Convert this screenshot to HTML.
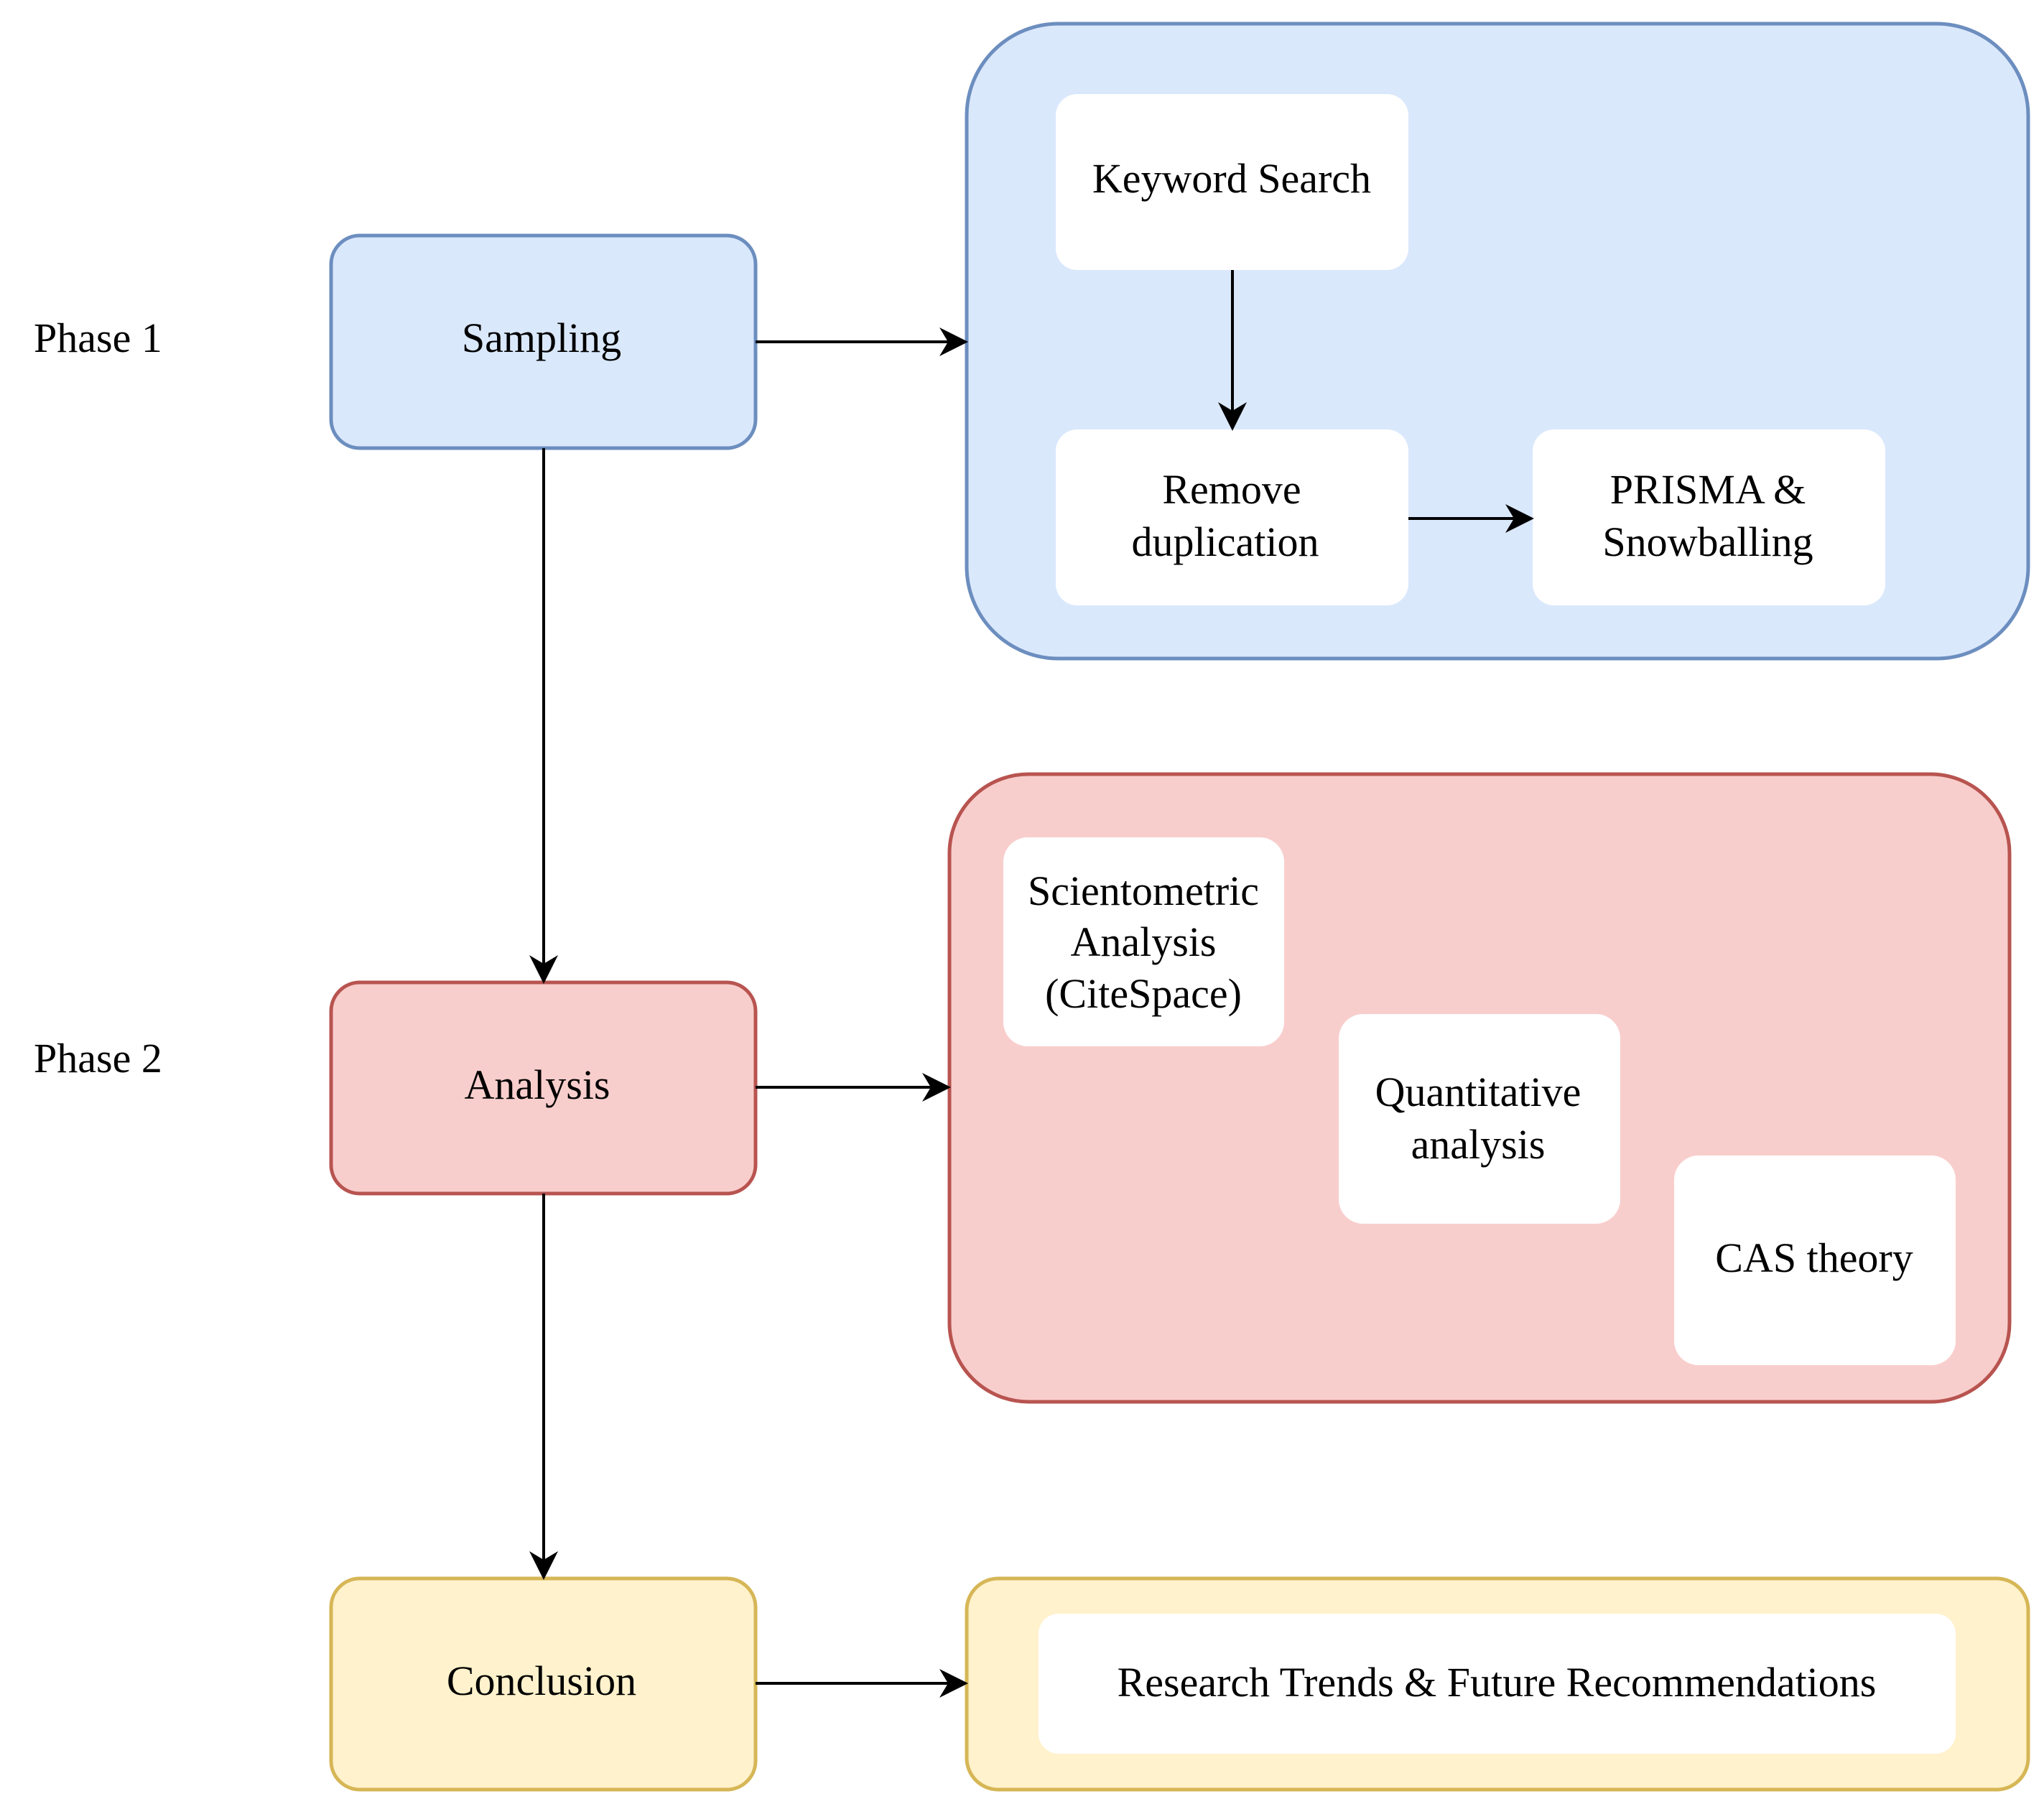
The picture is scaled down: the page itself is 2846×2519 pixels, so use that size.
<!DOCTYPE html>
<html><head><meta charset="utf-8"><style>html,body{margin:0;padding:0;background:#fff}</style></head>
<body>
<svg width="2846" height="2514" viewBox="0 0 2846 2514" xmlns="http://www.w3.org/2000/svg" font-family="Liberation Serif, serif" font-size="58" text-anchor="middle">
<defs>
<marker id="b" viewBox="0 0 10 10" refX="9" refY="5" markerWidth="40" markerHeight="40" orient="auto" markerUnits="userSpaceOnUse"><path d="M0,0 L10,5 L0,10 L3,5 z" fill="#000"/></marker></defs>
<rect x="1346" y="33" width="1478" height="884" rx="128" fill="#dae8fc" stroke="#6c8ebf" stroke-width="5"/>
<rect x="1322" y="1078" width="1476" height="874" rx="110" fill="#f8cecc" stroke="#b85450" stroke-width="5"/>
<rect x="1346" y="2198" width="1478" height="294" rx="44" fill="#fff2cc" stroke="#d6b656" stroke-width="5"/>
<rect x="461" y="328" width="591" height="296" rx="40" fill="#dae8fc" stroke="#6c8ebf" stroke-width="5"/>
<rect x="461" y="1368" width="591" height="294" rx="40" fill="#f8cecc" stroke="#b85450" stroke-width="5"/>
<rect x="461" y="2198" width="591" height="294" rx="40" fill="#fff2cc" stroke="#d6b656" stroke-width="5"/>
<g fill="#fff">
<rect x="1470" y="131" width="491" height="245" rx="30"/>
<rect x="1470" y="598" width="491" height="245" rx="30"/>
<rect x="2134" y="598" width="491" height="245" rx="30"/>
<rect x="1397" y="1166" width="391" height="291" rx="34"/>
<rect x="1864" y="1412" width="392" height="292" rx="34"/>
<rect x="2331" y="1609" width="392" height="292" rx="34"/>
<rect x="1446" y="2247" width="1277" height="195" rx="28"/>
</g>
<g stroke="#000" stroke-width="4" fill="none">
<line x1="1052" y1="476" x2="1344" y2="476" marker-end="url(#b)"/>
<line x1="1052" y1="1514" x2="1320" y2="1514" marker-end="url(#b)"/>
<line x1="1052" y1="2344" x2="1344" y2="2344" marker-end="url(#b)"/>
<line x1="1716" y1="376" x2="1716" y2="596" marker-end="url(#b)"/>
<line x1="1961" y1="722" x2="2132" y2="722" marker-end="url(#b)"/>
<line x1="757" y1="624" x2="757" y2="1366" marker-end="url(#b)"/>
<line x1="757" y1="1662" x2="757" y2="2196" marker-end="url(#b)"/>
</g>
<text x="47" y="490" text-anchor="start">Phase 1</text>
<text x="47" y="1493" text-anchor="start">Phase 2</text>
<text x="754" y="490">Sampling</text>
<text x="748" y="1530">Analysis</text>
<text x="754" y="2360">Conclusion</text>
<text x="1715" y="268">Keyword Search</text>
<text x="1715" y="701">Remove</text>
<text x="1706" y="774">duplication</text>
<text x="2378" y="701">PRISMA &amp;</text>
<text x="2378" y="774">Snowballing</text>
<text x="1592" y="1260">Scientometric</text>
<text x="1592" y="1331">Analysis</text>
<text x="1592" y="1403">(CiteSpace)</text>
<text x="2058" y="1540">Quantitative</text>
<text x="2058" y="1613">analysis</text>
<text x="2526" y="1771">CAS theory</text>
<text x="2084" y="2362">Research Trends &amp; Future Recommendations</text>
</svg>
</body></html>
